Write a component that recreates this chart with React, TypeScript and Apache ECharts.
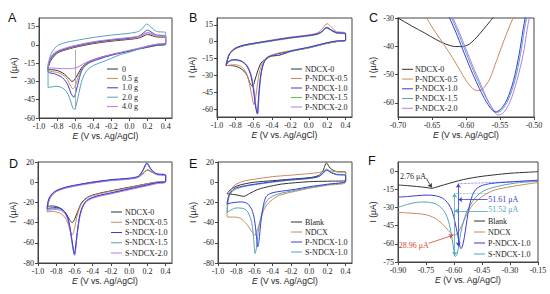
import React, { useEffect, useRef } from 'react';
import * as echarts from 'echarts';

// ---------- colours ----------
const BLACK = '#333333';
const BROWN = '#c98a5e';
const BLUE = '#3b3bd6';
const TEAL = '#52a5b8';
const VIOLET = '#b57af0';
const GREEN = '#66c455';
const RED = '#d9442a';

const SERIF = '"Liberation Serif", "Times New Roman", serif';
const SANS = '"Liberation Sans", Arial, sans-serif';

// ---------- tick labels ----------
const xTicksCV = [-1.0, -0.8, -0.6, -0.4, -0.2, 0, 0.2, 0.4];
const yTicksA = [-60, -45, -30, -15, 0, 15];
const yTicksB = [-60, -45, -30, -15, 0, 15];
const xTicksC = [-0.7, -0.65, -0.6, -0.55, -0.5];
const yTicksC = [-60, -50, -40, -30];
const yTicksDE = [-80, -60, -40, -20, 0, 20];
const xTicksF = [-0.9, -0.75, -0.6, -0.45, -0.3, -0.15];
const yTicksF = [-75, -60, -45, -30, -15, 0];

// ---------- legend names ----------
const legA = ['0', '0.5 g', '1.0 g', '2.0 g', '4.0 g'];
const legB = ['NDCX-0', 'P-NDCX-0.5', 'P-NDCX-1.0', 'P-NDCX-1.5', 'P-NDCX-2.0'];
const legD = ['NDCX-0', 'S-NDCX-0.5', 'S-NDCX-1.0', 'S-NDCX-1.5', 'S-NDCX-2.0'];
const legE = ['Blank', 'NDCX', 'P-NDCX-1.0', 'S-NDCX-1.0'];

// ---------- panel A (E, I) ----------
const a_0 = [[-0.9,-19],[-0.87,-13],[-0.83,-9],[-0.78,-6],[-0.7,-4],[-0.6,-2],[-0.4,1],[-0.2,3],[0,4.5],[0.1,5.5],[0.15,7],[0.2,8.5],[0.25,7.5],[0.3,6.5],[0.4,6],
  [0.4,0.5],[0.3,-0.5],[0.2,-2],[0,-5],[-0.2,-8],[-0.35,-11],[-0.45,-14],[-0.52,-18],[-0.57,-24],[-0.61,-29],[-0.635,-30],[-0.665,-28],[-0.72,-24],[-0.8,-21],[-0.9,-20],[-0.9,-19]];
const a_05 = [[-0.9,-19],[-0.87,-12],[-0.83,-8],[-0.78,-5.5],[-0.7,-3.5],[-0.6,-1.5],[-0.4,1.5],[-0.2,3.5],[0,5],[0.1,6],[0.15,8],[0.2,10],[0.25,8.5],[0.3,7],[0.4,6.5],
  [0.4,1],[0.3,0],[0.2,-1.5],[0,-5],[-0.2,-8.5],[-0.35,-11.5],[-0.45,-14.5],[-0.52,-19],[-0.57,-27],[-0.6,-34],[-0.625,-36],[-0.655,-33],[-0.7,-27],[-0.78,-23],[-0.9,-21],[-0.9,-19]];
const a_10 = [[-0.9,-18],[-0.87,-11],[-0.83,-7.5],[-0.78,-5],[-0.7,-3],[-0.6,-1],[-0.4,2],[-0.2,4],[0,5.5],[0.1,7],[0.15,9.5],[0.2,12],[0.25,10],[0.3,8],[0.4,7],
  [0.4,1],[0.3,0],[0.2,-1.5],[0,-5],[-0.2,-8.5],[-0.35,-12],[-0.45,-15],[-0.52,-20],[-0.56,-29],[-0.59,-38],[-0.615,-43],[-0.645,-40],[-0.68,-33],[-0.74,-27],[-0.82,-24],[-0.9,-22],[-0.9,-18]];
const a_20 = [[-0.9,-16],[-0.87,-8],[-0.83,-3],[-0.78,0],[-0.7,2],[-0.6,3.5],[-0.4,6],[-0.2,8],[0,9.5],[0.1,11],[0.15,14],[0.19,17],[0.23,15],[0.3,11],[0.4,10],
  [0.4,2],[0.3,0.5],[0.2,-1],[0.1,-3.5],[0,-6],[-0.1,-8],[-0.2,-11],[-0.3,-14],[-0.4,-17],[-0.47,-21],[-0.52,-28],[-0.56,-40],[-0.59,-50],[-0.61,-53],[-0.63,-51],[-0.66,-44],[-0.7,-38],[-0.75,-35],[-0.8,-34],[-0.9,-35],[-0.9,-16]];
const a_40 = [[-0.9,-17],[-0.87,-10],[-0.83,-6.5],[-0.78,-4.5],[-0.7,-2.5],[-0.6,-0.5],[-0.4,2.5],[-0.2,4.5],[0,6],[0.1,7],[0.15,8.5],[0.2,10],[0.25,9],[0.3,8],[0.4,7.5],
  [0.4,1.5],[0.3,0.5],[0.2,-1],[0,-4.5],[-0.2,-8],[-0.35,-11],[-0.45,-13.5],[-0.52,-16],[-0.58,-18.5],[-0.65,-19.5],[-0.75,-19.5],[-0.85,-19],[-0.9,-19],[-0.9,-17]];
const a_guide = [[-0.6, -4], [-0.6, -53]];

// ---------- panel B ----------
const b_0 = [[-0.9,-20],[-0.87,-12],[-0.83,-8],[-0.78,-5.5],[-0.7,-3.5],[-0.6,-2],[-0.4,1],[-0.2,3.5],[0,5.5],[0.1,7],[0.15,9.5],[0.2,12.5],[0.25,10],[0.3,8],[0.4,7],
  [0.4,1],[0.3,0],[0.2,-1.5],[0,-5.5],[-0.2,-8.5],[-0.35,-11],[-0.45,-14],[-0.52,-19],[-0.56,-27],[-0.59,-35],[-0.612,-40],[-0.64,-37],[-0.68,-29],[-0.74,-24],[-0.82,-21.5],[-0.9,-21],[-0.9,-20]];
const b_05 = [[-0.9,-21],[-0.87,-12],[-0.83,-7.5],[-0.78,-5],[-0.7,-3],[-0.6,-1.5],[-0.4,1.5],[-0.2,4],[0,6],[0.1,8],[0.15,12],[0.2,16],[0.25,12.5],[0.3,9],[0.4,7.5],
  [0.4,1.5],[0.3,0.5],[0.2,-1],[0,-5],[-0.2,-8],[-0.35,-10.5],[-0.45,-13.5],[-0.5,-18],[-0.54,-28],[-0.57,-44],[-0.585,-53],[-0.597,-56],[-0.612,-52],[-0.64,-40],[-0.68,-28],[-0.74,-22],[-0.82,-20.5],[-0.9,-21.5]];
const b_10 = [[-0.9,-21],[-0.87,-12],[-0.83,-7.5],[-0.78,-5],[-0.7,-3],[-0.6,-1.5],[-0.4,1],[-0.2,3.5],[0,5.5],[0.1,7],[0.15,9.5],[0.19,12.5],[0.25,10],[0.3,8],[0.4,7],
  [0.4,1.5],[0.3,0.5],[0.2,-1],[0,-5],[-0.2,-8.5],[-0.32,-12],[-0.42,-13],[-0.48,-17],[-0.52,-28],[-0.545,-47],[-0.562,-64],[-0.58,-58],[-0.605,-42],[-0.635,-29],[-0.68,-21],[-0.74,-17],[-0.82,-16],[-0.88,-18],[-0.9,-21]];
const b_15 = [[-0.9,-21],[-0.87,-12.5],[-0.83,-8],[-0.78,-5.5],[-0.7,-3.5],[-0.6,-2],[-0.4,0.5],[-0.2,3],[0,5],[0.1,6.5],[0.15,9],[0.19,12],[0.25,9.5],[0.3,7.5],[0.4,6.5],
  [0.4,1],[0.3,0],[0.2,-1.5],[0,-5.5],[-0.2,-9],[-0.32,-12],[-0.42,-13.5],[-0.48,-17.5],[-0.52,-28],[-0.545,-46],[-0.56,-63.5],[-0.578,-57],[-0.603,-41],[-0.635,-29],[-0.68,-21.5],[-0.74,-17.5],[-0.82,-16.5],[-0.88,-18.5],[-0.9,-21]];
const b_20 = [[-0.9,-21],[-0.87,-12],[-0.83,-7.5],[-0.78,-5],[-0.7,-3],[-0.6,-1.5],[-0.4,1],[-0.2,3.5],[0,5.5],[0.1,7],[0.15,9.5],[0.19,12.5],[0.25,10],[0.3,8],[0.4,7],
  [0.4,1.5],[0.3,0.5],[0.2,-1],[0,-5],[-0.2,-8.5],[-0.32,-12],[-0.42,-13],[-0.48,-16.5],[-0.515,-27],[-0.54,-46],[-0.557,-64.5],[-0.575,-58],[-0.6,-42],[-0.63,-29],[-0.675,-21],[-0.74,-17],[-0.82,-16],[-0.88,-18],[-0.9,-21]];

// ---------- panel C (zoom of reduction peak) ----------
const c_0 = [[-0.71,-28.6],[-0.7,-30],[-0.68,-32.8],[-0.66,-35.4],[-0.645,-37.5],[-0.63,-39.2],[-0.615,-40.1],[-0.605,-40.1],[-0.595,-39.2],[-0.585,-37],[-0.575,-34.2],[-0.565,-31.3],[-0.555,-28.3]];
const c_05 = [[-0.665,-27],[-0.658,-30],[-0.645,-35],[-0.632,-39.5],[-0.62,-44],[-0.61,-48],[-0.6,-52],[-0.59,-55],[-0.583,-55.7],[-0.575,-55],[-0.565,-51.5],[-0.555,-45],[-0.545,-38.5],[-0.537,-33.5],[-0.53,-29.5],[-0.525,-26]];
const c_10 = [[-0.628,-27],[-0.624,-30],[-0.615,-35],[-0.605,-41],[-0.595,-47],[-0.585,-52.5],[-0.575,-57.5],[-0.565,-61.5],[-0.557,-63.2],[-0.55,-62.5],[-0.54,-59],[-0.53,-52],[-0.522,-43],[-0.516,-34],[-0.513,-30],[-0.51,-26]];
const c_15 = [[-0.625,-27],[-0.621,-30],[-0.612,-35],[-0.602,-41],[-0.592,-47],[-0.582,-52.5],[-0.572,-57.5],[-0.562,-61.7],[-0.555,-63.4],[-0.548,-62.7],[-0.538,-59],[-0.528,-52],[-0.52,-43],[-0.514,-34],[-0.511,-30],[-0.508,-26]];
const c_20 = [[-0.623,-27],[-0.619,-30],[-0.61,-35],[-0.6,-41],[-0.59,-47],[-0.58,-52.5],[-0.57,-58],[-0.56,-62.5],[-0.553,-64.3],[-0.545,-63.5],[-0.535,-59.5],[-0.525,-52],[-0.516,-43],[-0.51,-34],[-0.507,-30],[-0.504,-26]];

// ---------- panel D ----------
const d_0 = [[-0.9,-24],[-0.87,-16],[-0.83,-11],[-0.78,-8],[-0.7,-5.5],[-0.6,-3.5],[-0.4,0],[-0.2,2],[0,3.5],[0.1,5],[0.15,8.5],[0.2,12],[0.25,10],[0.3,8],[0.4,6.5],
  [0.4,1],[0.3,0],[0.2,-1.5],[0,-5],[-0.2,-8.5],[-0.35,-11.5],[-0.45,-14.5],[-0.52,-20],[-0.56,-28],[-0.6,-37],[-0.625,-40],[-0.655,-37],[-0.7,-30],[-0.76,-25.5],[-0.84,-23.5],[-0.9,-24]];
const d_05 = [[-0.9,-29.5],[-0.88,-18],[-0.83,-11.5],[-0.78,-8],[-0.7,-5.5],[-0.6,-3.5],[-0.4,0],[-0.2,2],[0,3.5],[0.1,5],[0.15,8.5],[0.2,12],[0.25,10],[0.3,8],[0.4,6.5],
  [0.4,1],[0.3,0],[0.2,-1.5],[0,-5.5],[-0.2,-9],[-0.35,-12],[-0.45,-15],[-0.52,-21],[-0.57,-33],[-0.6,-46],[-0.625,-52],[-0.65,-47],[-0.69,-37],[-0.75,-31],[-0.84,-29],[-0.9,-29.5]];
const d_10 = [[-0.9,-26],[-0.88,-16],[-0.83,-10],[-0.78,-7.5],[-0.7,-5],[-0.6,-3],[-0.4,0],[-0.2,2.5],[0,4],[0.1,6],[0.15,12],[0.195,19],[0.24,13],[0.3,8.5],[0.4,7],
  [0.4,1],[0.3,-0.5],[0.2,-2.5],[0,-6.5],[-0.2,-10.5],[-0.35,-13.5],[-0.45,-17],[-0.5,-22],[-0.54,-32],[-0.57,-50],[-0.59,-66],[-0.6,-71],[-0.613,-66],[-0.64,-50],[-0.67,-36],[-0.72,-28],[-0.8,-25],[-0.9,-26]];
const d_15 = [[-0.9,-27],[-0.88,-16.5],[-0.83,-10.5],[-0.78,-8],[-0.7,-5.5],[-0.6,-3.5],[-0.4,-0.5],[-0.2,2],[0,3.5],[0.1,5.5],[0.15,11.5],[0.195,18.5],[0.24,12.5],[0.3,8],[0.4,6.5],
  [0.4,0.5],[0.3,-1],[0.2,-3],[0,-7],[-0.2,-11],[-0.35,-14],[-0.45,-17.5],[-0.5,-22.5],[-0.54,-33],[-0.57,-51],[-0.59,-67],[-0.6,-72],[-0.613,-67],[-0.64,-51],[-0.67,-37],[-0.72,-28.5],[-0.8,-26],[-0.9,-27]];
const d_20 = [[-0.9,-28],[-0.88,-17],[-0.83,-11],[-0.78,-8.5],[-0.7,-6],[-0.6,-4],[-0.4,-1],[-0.2,1.5],[0,3],[0.1,5],[0.15,11],[0.195,18],[0.24,12],[0.3,7.5],[0.4,6],
  [0.4,0],[0.3,-1.5],[0.2,-3.5],[0,-7.5],[-0.2,-11.5],[-0.35,-14.5],[-0.45,-18],[-0.5,-23],[-0.54,-34],[-0.57,-52],[-0.588,-68],[-0.598,-72.5],[-0.612,-68],[-0.64,-52],[-0.67,-38],[-0.72,-29.5],[-0.8,-27],[-0.9,-28]];

// ---------- panel E ----------
const e_blank = [[-0.9,-11.5],[-0.87,-8],[-0.8,-4],[-0.7,-1.5],[-0.6,0],[-0.4,1.5],[-0.2,3],[0,4.5],[0.1,6.5],[0.15,11],[0.19,19],[0.23,14],[0.3,10.5],[0.4,10],
  [0.4,1.5],[0.2,1],[0,0.5],[-0.15,-0.5],[-0.3,-1.8],[-0.39,-3.3],[-0.5,-5.5],[-0.57,-7.4],[-0.65,-11],[-0.72,-14],[-0.8,-12.5],[-0.9,-11.5]];
const e_ndcx = [[-0.9,-20],[-0.87,-10],[-0.83,-4],[-0.78,-1],[-0.7,1.5],[-0.6,3],[-0.4,5.5],[-0.2,7],[0,8.5],[0.1,9.5],[0.15,10.5],[0.2,11.5],[0.25,11],[0.3,10.5],[0.4,10],
  [0.4,0],[0.2,-3],[0,-6],[-0.15,-9],[-0.25,-11],[-0.35,-14],[-0.45,-21],[-0.5,-28],[-0.55,-42],[-0.58,-50],[-0.595,-52.7],[-0.62,-50],[-0.65,-46],[-0.7,-40],[-0.75,-36],[-0.82,-34.5],[-0.9,-34.5],[-0.9,-20]];
const e_p10 = [[-0.9,-21.5],[-0.88,-13],[-0.83,-7],[-0.78,-5],[-0.7,-3.5],[-0.6,-2],[-0.4,0.5],[-0.2,2.5],[0,4],[0.1,5.5],[0.15,8.5],[0.19,12],[0.24,9.5],[0.3,7.5],[0.4,6.5],
  [0.4,1],[0.2,-2],[0,-4.5],[-0.15,-7],[-0.35,-9.5],[-0.42,-11],[-0.47,-14],[-0.5,-22],[-0.53,-40],[-0.55,-58],[-0.563,-64],[-0.58,-52],[-0.6,-37],[-0.63,-27],[-0.68,-21],[-0.75,-19.5],[-0.85,-20.5],[-0.9,-21.5]];
const e_s10 = [[-0.9,-30],[-0.88,-15],[-0.84,-9],[-0.78,-6],[-0.7,-4],[-0.6,-2.5],[-0.4,0],[-0.2,2],[0,3.5],[0.1,5.5],[0.15,9],[0.19,13],[0.24,10],[0.3,8],[0.4,7],
  [0.4,1],[0.2,-2.5],[0,-5.5],[-0.15,-8],[-0.35,-12],[-0.45,-17],[-0.5,-25],[-0.53,-35],[-0.56,-50],[-0.58,-66],[-0.593,-70.5],[-0.61,-55],[-0.63,-40],[-0.67,-30],[-0.72,-26],[-0.8,-25.5],[-0.9,-30]];

// ---------- panel F (reduction scan only) ----------
const f_blank = [[-0.9,-11.5],[-0.85,-12],[-0.8,-12.7],[-0.75,-13.5],[-0.72,-14.2],[-0.69,-13],[-0.65,-11.2],[-0.6,-9],[-0.55,-7],[-0.5,-5.5],[-0.45,-4.3],[-0.39,-3.2],[-0.3,-1.8],[-0.2,-0.9],[-0.15,-0.5]];
const f_ndcx = [[-0.9,-34],[-0.85,-34.5],[-0.8,-35],[-0.75,-36],[-0.7,-39],[-0.66,-44],[-0.63,-49],[-0.61,-52],[-0.595,-52.7],[-0.58,-51],[-0.56,-45.5],[-0.54,-38.5],[-0.52,-32.5],[-0.5,-28],[-0.47,-23.5],[-0.43,-19],[-0.38,-15.5],[-0.3,-13],[-0.2,-10.5],[-0.15,-9.5]];
const f_p10 = [[-0.9,-21.5],[-0.85,-21],[-0.8,-20.3],[-0.75,-19.8],[-0.7,-20.3],[-0.66,-22.5],[-0.63,-27],[-0.61,-33],[-0.595,-42],[-0.58,-53],[-0.57,-61],[-0.563,-64],[-0.555,-62],[-0.545,-55],[-0.535,-45],[-0.525,-35],[-0.51,-24],[-0.49,-16.5],[-0.46,-12.5],[-0.4,-10.2],[-0.3,-9],[-0.2,-8],[-0.15,-7.5]];
const f_s10 = [[-0.9,-30],[-0.85,-27.5],[-0.8,-25.8],[-0.75,-25.5],[-0.7,-27],[-0.67,-30],[-0.645,-35],[-0.625,-44],[-0.61,-56],[-0.6,-66],[-0.593,-70.5],[-0.585,-69],[-0.575,-62],[-0.565,-52],[-0.55,-42],[-0.53,-33],[-0.5,-25],[-0.47,-19.5],[-0.43,-15.5],[-0.35,-12],[-0.25,-9.5],[-0.15,-8.5]];

// F annotations (data coordinates)
const fLabels = [
  { text: '2.76 μA', at: [-0.82, -4.1], color: '#222' },
  { text: '28.96 μA', at: [-0.816, -61], color: RED },
  { text: '51.61 μA', at: [-0.336, -23.1], color: BLUE },
  { text: '51.52 μA', at: [-0.336, -31.6], color: TEAL },
];
const fArrows = [
  { from: [-0.748, -6.0], to: [-0.72, -13.6], color: '#222', both: false, dotted: false, none: false },
  { from: [-0.736, -59.6], to: [-0.605, -52.9], color: RED, both: false, dotted: false, none: false },
  { from: [-0.42, -23.5], to: [-0.577, -23.5], color: BLUE, both: false, dotted: false, none: false },
  { from: [-0.42, -32.8], to: [-0.597, -32.8], color: TEAL, both: false, dotted: false, none: false },
  { from: [-0.577, -10.5], to: [-0.577, -62.1], color: BLUE, both: true, dotted: false, none: false },
  { from: [-0.597, -18.4], to: [-0.597, -69.9], color: TEAL, both: true, dotted: false, none: false },
  { from: [-0.577, -10.5], to: [-0.15, -7.8], color: BLUE, both: false, dotted: true, none: true },
  { from: [-0.597, -18.4], to: [-0.42, -18.4], color: TEAL, both: false, dotted: true, none: true },
];

// ---------- layout ----------
const grids = [
  { left: 39, top: 18, width: 133, height: 100 },
  { left: 217, top: 18, width: 135, height: 99 },
  { left: 398, top: 18, width: 136, height: 99 },
  { left: 38, top: 162, width: 134, height: 101 },
  { left: 218, top: 162, width: 134, height: 101 },
  { left: 398, top: 162, width: 140, height: 100 },
];
const letters = [
  { t: 'A', x: 8, y: 11 }, { t: 'B', x: 189, y: 11 }, { t: 'C', x: 369, y: 11 },
  { t: 'D', x: 9, y: 157 }, { t: 'E', x: 189, y: 157 }, { t: 'F', x: 368, y: 154 },
];
const legends = [
  { names: legA, colors: [BLACK, BROWN, BLUE, TEAL, VIOLET], x1: 107, x2: 118, tx: 122, y0: 69, dy: 9.4 },
  { names: legB, colors: [BLACK, BROWN, BLUE, GREEN, VIOLET], x1: 291, x2: 302, tx: 305, y0: 69, dy: 9.5 },
  { names: legB, colors: [BLACK, BROWN, BLUE, TEAL, VIOLET], x1: 402, x2: 413, tx: 415, y0: 69.3, dy: 9.75 },
  { names: legD, colors: [BLACK, BROWN, BLUE, TEAL, VIOLET], x1: 111, x2: 122, tx: 125, y0: 212, dy: 10.25 },
  { names: legE, colors: [BLACK, BROWN, BLUE, TEAL], x1: 291, x2: 302, tx: 305, y0: 222, dy: 10 },
  { names: legE, colors: [BLACK, BROWN, BLUE, TEAL], x1: 474, x2: 485, tx: 488, y0: 221, dy: 11 },
];

const AXC = '#444';
const TXT = '#1a1a1a';

function xAxis(gi: number, min: number, max: number, ticks: number[], dec: number) {
  return {
    type: 'value', gridIndex: gi, min, max,
    name: '{i|E} (V vs. Ag/AgCl)', nameLocation: 'middle', nameGap: 13,
    nameTextStyle: { fontFamily: SANS, fontSize: 8.5, color: TXT, rich: { i: { fontStyle: 'italic', fontFamily: SANS, fontSize: 8.5, color: TXT } } },
    axisLine: { show: true, onZero: false, lineStyle: { color: AXC, width: 1 } },
    axisTick: { show: true, inside: false, length: 3, customValues: ticks, lineStyle: { color: AXC } },
    axisLabel: { customValues: ticks, formatter: (v: number) => v.toFixed(dec), fontFamily: SERIF, fontSize: 8, color: TXT, margin: 4 },
    splitLine: { show: false },
  };
}
function yAxis(gi: number, min: number, max: number, ticks: number[]) {
  return {
    type: 'value', gridIndex: gi, min, max,
    name: 'I (μA)', nameLocation: 'middle', nameGap: 21,
    nameTextStyle: { fontFamily: SANS, fontSize: 8.5, color: TXT },
    axisLine: { show: true, onZero: false, lineStyle: { color: AXC, width: 1 } },
    axisTick: { show: true, inside: false, length: 3, customValues: ticks, lineStyle: { color: AXC } },
    axisLabel: { customValues: ticks, formatter: (v: number) => String(v), fontFamily: SERIF, fontSize: 8, color: TXT, margin: 4 },
    splitLine: { show: false },
  };
}
function line(gi: number, name: string, data: number[][], color: string, extra: any = {}) {
  return {
    type: 'line', name, xAxisIndex: gi, yAxisIndex: gi, data,
    symbol: 'none', showSymbol: false, smooth: 0.3, clip: true, silent: true, animation: false,
    lineStyle: { color, width: 1 }, itemStyle: { color }, ...extra,
  };
}

export default function App() {
  const ref = useRef<HTMLDivElement>(null);
  useEffect(() => {
    if (!ref.current) return;
    const chart = echarts.init(ref.current, undefined, { renderer: 'svg', width: 550, height: 294 });

    const graphic: any[] = [];
    letters.forEach((l) => graphic.push({ type: 'text', x: l.x, y: l.y, silent: true, z: 100, style: { text: l.t, fontFamily: SANS, fontSize: 12.5, fill: '#111111', verticalAlign: 'top' } }));
    legends.forEach((lg) => {
      lg.names.forEach((n, i) => {
        const y = lg.y0 + i * lg.dy;
        graphic.push({ type: 'line', silent: true, z: 100, shape: { x1: lg.x1, y1: y, x2: lg.x2, y2: y }, style: { stroke: lg.colors[i], lineWidth: 1 } });
        graphic.push({ type: 'text', silent: true, z: 100, x: lg.tx, y, style: { text: n, fontFamily: SERIF, fontSize: 8, fill: TXT, verticalAlign: 'middle' } });
      });
    });

    const fMarkLines = fArrows.map((a) => [
      { coord: a.from, symbol: a.both ? 'arrow' : 'none', lineStyle: { color: a.color, width: a.dotted ? 0.7 : 0.8, type: a.dotted ? 'dotted' : 'solid' } },
      { coord: a.to, symbol: a.none ? 'none' : 'arrow' },
    ]);

    const series: any[] = [
      line(0, '0', a_0, BLACK, {
        markLine: { silent: true, animation: false, symbol: 'none', label: { show: false }, lineStyle: { color: '#999', width: 0.8, type: 'solid' },
          data: [[{ coord: a_guide[0] }, { coord: a_guide[1] }]] },
      }),
      line(0, '0.5 g', a_05, BROWN),
      line(0, '1.0 g', a_10, BLUE),
      line(0, '2.0 g', a_20, TEAL),
      line(0, '4.0 g', a_40, VIOLET),

      line(1, 'NDCX-0', b_0, BLACK),
      line(1, 'P-NDCX-0.5', b_05, BROWN),
      line(1, 'P-NDCX-1.5', b_15, GREEN),
      line(1, 'P-NDCX-2.0', b_20, VIOLET),
      line(1, 'P-NDCX-1.0', b_10, BLUE),

      line(2, 'NDCX-0', c_0, BLACK),
      line(2, 'P-NDCX-0.5', c_05, BROWN),
      line(2, 'P-NDCX-1.5', c_15, TEAL),
      line(2, 'P-NDCX-2.0', c_20, VIOLET),
      line(2, 'P-NDCX-1.0', c_10, BLUE),

      line(3, 'NDCX-0', d_0, BLACK),
      line(3, 'S-NDCX-0.5', d_05, BROWN),
      line(3, 'S-NDCX-1.5', d_15, TEAL),
      line(3, 'S-NDCX-2.0', d_20, VIOLET),
      line(3, 'S-NDCX-1.0', d_10, BLUE),

      line(4, 'Blank', e_blank, BLACK),
      line(4, 'NDCX', e_ndcx, BROWN),
      line(4, 'S-NDCX-1.0', e_s10, TEAL),
      line(4, 'P-NDCX-1.0', e_p10, BLUE),

      line(5, 'Blank', f_blank, BLACK, {
        markLine: { silent: true, animation: false, symbolSize: 4, label: { show: false }, data: fMarkLines },
        markPoint: {
          silent: true, animation: false, symbol: 'circle', symbolSize: 0,
          data: fLabels.map((l) => ({ name: l.text, coord: l.at, label: { show: true, position: 'inside', formatter: '{b}', color: l.color, fontFamily: SERIF, fontSize: 8 } })),
        },
      }),
      line(5, 'NDCX', f_ndcx, BROWN),
      line(5, 'S-NDCX-1.0', f_s10, TEAL),
      line(5, 'P-NDCX-1.0', f_p10, BLUE),
    ];

    chart.setOption({
      animation: false,
      backgroundColor: '#ffffff',
      grid: grids.map((g) => ({ ...g, show: true, borderColor: AXC, borderWidth: 1, backgroundColor: 'transparent', containLabel: false })),
      xAxis: [
        xAxis(0, -1.0, 0.47, xTicksCV, 1),
        xAxis(1, -1.0, 0.47, xTicksCV, 1),
        xAxis(2, -0.7, -0.5, xTicksC, 2),
        xAxis(3, -1.0, 0.47, xTicksCV, 1),
        xAxis(4, -1.0, 0.47, xTicksCV, 1),
        xAxis(5, -0.9, -0.15, xTicksF, 2),
      ],
      yAxis: [
        yAxis(0, -60, 22, yTicksA),
        yAxis(1, -67, 21, yTicksB),
        yAxis(2, -65, -30, yTicksC),
        yAxis(3, -80, 20, yTicksDE),
        yAxis(4, -80, 20, yTicksDE),
        yAxis(5, -75, 7.5, yTicksF),
      ],
      series,
      graphic,
    });
    return () => chart.dispose();
  }, []);
  return <div ref={ref} style={{ position: 'fixed', left: 0, top: 0, width: 550, height: 294, background: '#fff' }} />;
}
